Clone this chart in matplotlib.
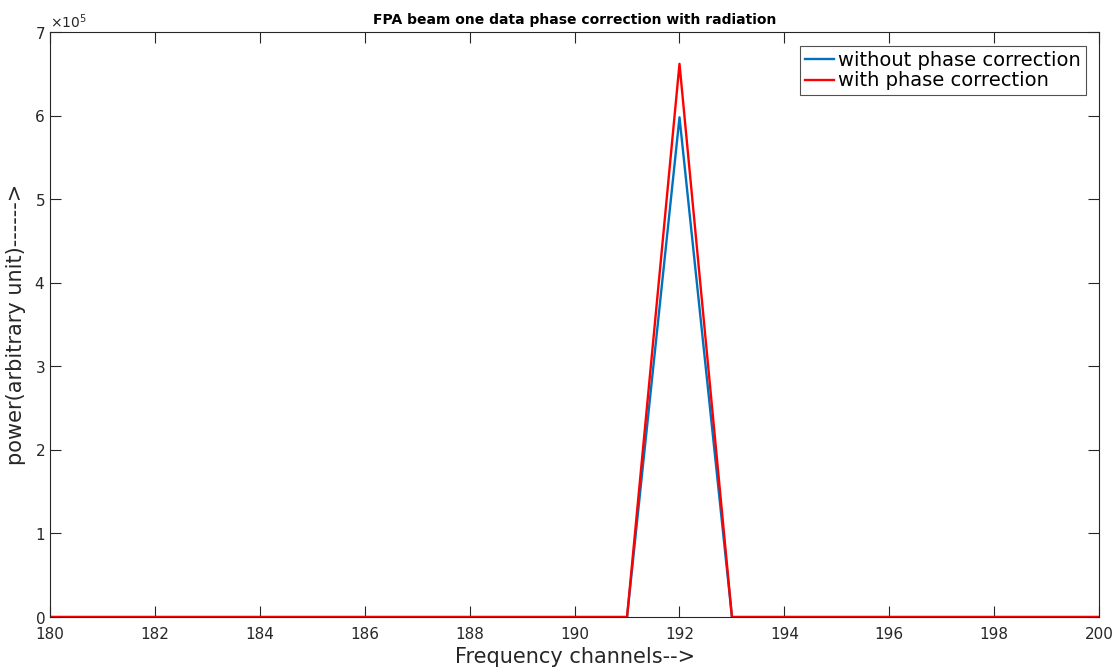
import matplotlib.pyplot as plt
import numpy as np

channels = np.arange(180, 201)
without_corr = [0, 0, 0, 0, 0, 0, 0, 0, 0, 0, 0, 0, 5.98e5, 0, 0, 0, 0, 0, 0, 0, 0]
with_corr = [0, 0, 0, 0, 0, 0, 0, 0, 0, 0, 0, 0, 6.62e5, 0, 0, 0, 0, 0, 0, 0, 0]

fig = plt.figure(figsize=(11.17, 6.68), dpi=100)
ax = fig.add_axes([0.0448, 0.0763, 0.9392, 0.8757])

ax.plot(channels, without_corr, color='#0072BD', lw=1.7, label='without phase correction')
ax.plot(channels, with_corr, color='#FF0000', lw=1.7, label='with phase correction')

ax.set_xlim(180, 200)
ax.set_ylim(0, 7e5)
ax.set_xticks(np.arange(180, 201, 2))
ax.set_yticks(np.arange(0, 7.1e5, 1e5))
ax.ticklabel_format(axis='y', style='sci', scilimits=(0, 0), useMathText=True)
ax.yaxis.get_offset_text().set_fontsize(10)
ax.yaxis.get_offset_text().set_color('#262626')

ax.tick_params(direction='in', length=8, top=True, right=True, labelsize=11,
               colors='#262626', width=0.8)
ax.tick_params(axis='x', pad=7)
for s in ax.spines.values():
    s.set_color('#262626')
    s.set_linewidth(0.8)

ax.set_title('FPA beam one data phase correction with radiation', fontsize=10,
             fontweight='bold', pad=6)
ax.set_xlabel('Frequency channels-->', fontsize=15, color='#262626', labelpad=4)
ax.set_ylabel('power(arbitrary unit)------>', fontsize=15, color='#262626', labelpad=6)

leg = ax.legend(loc='upper right', fontsize=14, frameon=True, fancybox=False,
                handlelength=1.5, handletextpad=0.2, borderpad=0.25, labelspacing=0.1,
                borderaxespad=0.7)
leg.get_frame().set_edgecolor('#262626')
leg.get_frame().set_linewidth(0.8)

fig.savefig('out.png', dpi=100)
